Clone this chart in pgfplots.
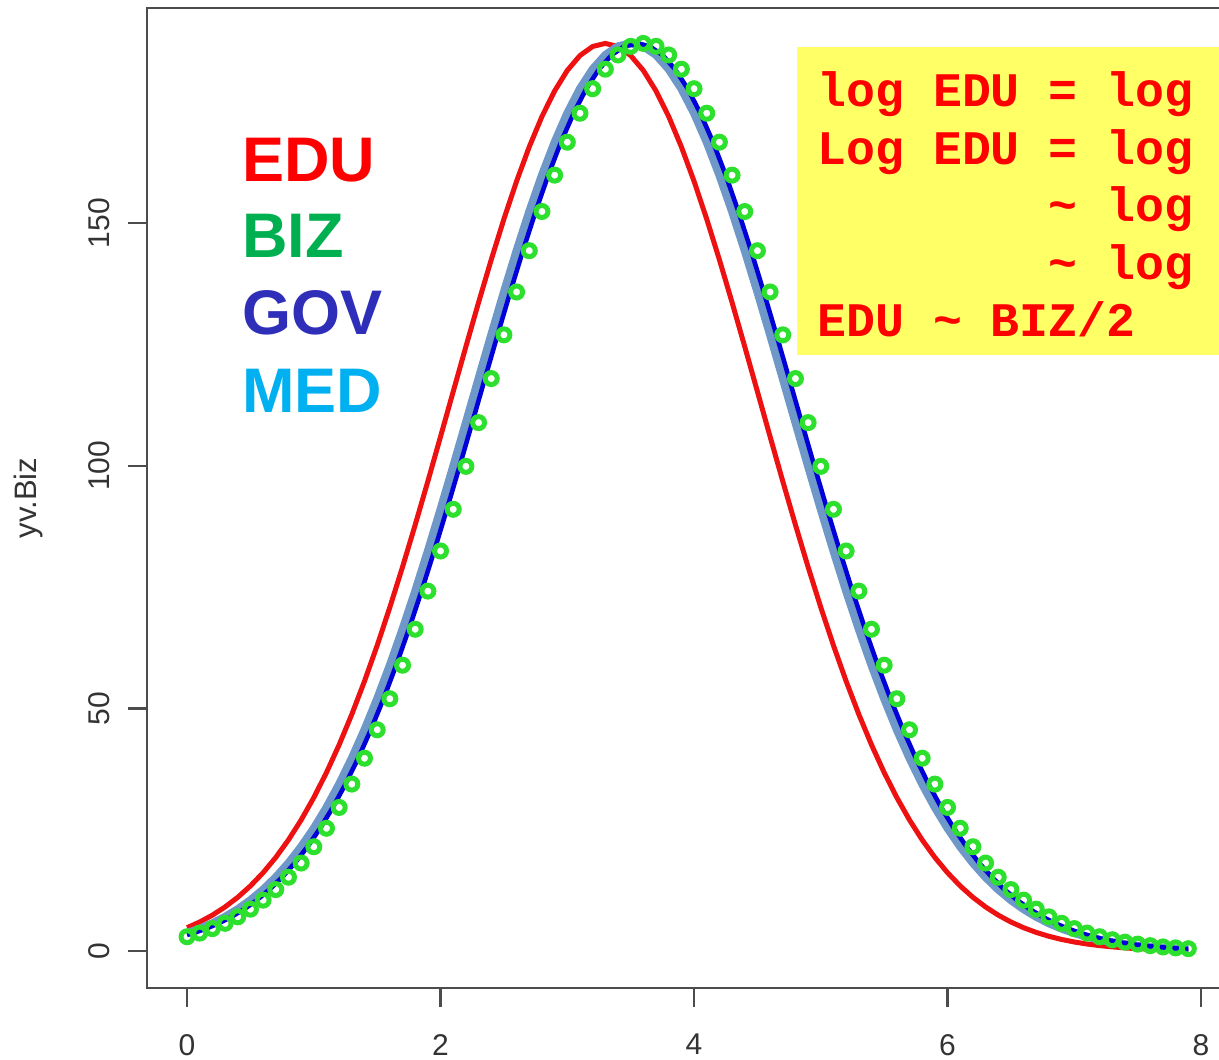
\documentclass[border=0pt]{standalone}
\usepackage{fontspec}
\setmainfont{Liberation Sans}
\newfontfamily\monob{Liberation Mono}
\usepackage{pgfplots}
\usepackage{pgfplotstable}
\pgfplotsset{compat=1.18}
\definecolor{eduR}{HTML}{FF0000}
\definecolor{eduLine}{HTML}{EE1111}
\definecolor{bizG}{HTML}{00B050}
\definecolor{govB}{HTML}{2E2EB8}
\definecolor{medC}{HTML}{00B0F0}
\definecolor{ptG}{HTML}{2EE02E}
\definecolor{govLine}{HTML}{0000D8}
\definecolor{medLine}{HTML}{6E98C8}
\definecolor{yellowbox}{HTML}{FFFF66}

\pgfplotstableread{
x y
0.0 2.96
0.1 3.71
0.2 4.63
0.3 5.73
0.4 7.06
0.5 8.64
0.6 10.50
0.7 12.68
0.8 15.22
0.9 18.14
1.0 21.50
1.1 25.31
1.2 29.60
1.3 34.41
1.4 39.74
1.5 45.60
1.6 51.99
1.7 58.90
1.8 66.31
1.9 74.17
2.0 82.43
2.1 91.02
2.2 99.87
2.3 108.88
2.4 117.95
2.5 126.96
2.6 135.79
2.7 144.30
2.8 152.37
2.9 159.86
3.0 166.65
3.1 172.62
3.2 177.67
3.3 181.69
3.4 184.62
3.5 186.40
3.6 187.00
3.7 186.40
3.8 184.62
3.9 181.69
4.0 177.67
4.1 172.62
4.2 166.65
4.3 159.86
4.4 152.37
4.5 144.30
4.6 135.79
4.7 126.96
4.8 117.95
4.9 108.88
5.0 99.87
5.1 91.02
5.2 82.43
5.3 74.17
5.4 66.31
5.5 58.90
5.6 51.99
5.7 45.60
5.8 39.74
5.9 34.41
6.0 29.60
6.1 25.31
6.2 21.50
6.3 18.14
6.4 15.22
6.5 12.68
6.6 10.50
6.7 8.64
6.8 7.06
6.9 5.73
7.0 4.63
7.1 3.71
7.2 2.96
7.3 2.34
7.4 1.84
7.5 1.44
7.6 1.12
7.7 0.86
7.8 0.66
7.9 0.50
}\biz

\pgfplotstableread{
x y
0.0 4.82
0.1 6.00
0.2 7.41
0.3 9.10
0.4 11.09
0.5 13.43
0.6 16.15
0.7 19.30
0.8 22.91
0.9 27.01
1.0 31.63
1.1 36.79
1.2 42.51
1.3 48.78
1.4 55.61
1.5 62.97
1.6 70.83
1.7 79.13
1.8 87.82
1.9 96.80
2.0 106.00
2.1 115.28
2.2 124.54
2.3 133.64
2.4 142.45
2.5 150.82
2.6 158.62
2.7 165.70
2.8 171.94
2.9 177.21
3.0 181.43
3.1 184.50
3.2 186.37
3.3 187.00
3.4 186.37
3.5 184.50
3.6 181.43
3.7 177.21
3.8 171.94
3.9 165.70
4.0 158.62
4.1 150.82
4.2 142.45
4.3 133.64
4.4 124.54
4.5 115.28
4.6 106.00
4.7 96.80
4.8 87.82
4.9 79.13
5.0 70.83
5.1 62.97
5.2 55.61
5.3 48.78
5.4 42.51
5.5 36.79
5.6 31.63
5.7 27.01
5.8 22.91
5.9 19.30
6.0 16.15
6.1 13.43
6.2 11.09
6.3 9.10
6.4 7.41
6.5 6.00
6.6 4.82
6.7 3.85
6.8 3.05
6.9 2.40
7.0 1.88
7.1 1.46
7.2 1.13
7.3 0.87
7.4 0.66
7.5 0.50
7.6 0.38
7.7 0.28
7.8 0.21
7.9 0.15
}\edu

\pgfplotstableread{
x y
0 3.33
0.05 3.71
0.15 4.63
0.25 5.73
0.35 7.06
0.45 8.64
0.55 10.50
0.65 12.68
0.75 15.22
0.85 18.14
0.95 21.50
1.05 25.31
1.15 29.60
1.25 34.41
1.35 39.74
1.45 45.60
1.55 51.99
1.65 58.90
1.75 66.31
1.85 74.17
1.95 82.43
2.05 91.02
2.15 99.87
2.25 108.88
2.35 117.95
2.45 126.96
2.55 135.79
2.65 144.30
2.75 152.37
2.85 159.86
2.95 166.65
3.05 172.62
3.15 177.67
3.25 181.69
3.35 184.62
3.45 186.40
3.55 187.00
3.65 186.40
3.75 184.62
3.85 181.69
3.95 177.67
4.05 172.62
4.15 166.65
4.25 159.86
4.35 152.37
4.45 144.30
4.55 135.79
4.65 126.96
4.75 117.95
4.85 108.88
4.95 99.87
5.05 91.02
5.15 82.43
5.25 74.17
5.35 66.31
5.45 58.90
5.55 51.99
5.65 45.60
5.75 39.74
5.85 34.41
5.95 29.60
6.05 25.31
6.15 21.50
6.25 18.14
6.35 15.22
6.45 12.68
6.55 10.50
6.65 8.64
6.75 7.06
6.85 5.73
6.95 4.63
7.05 3.71
7.15 2.96
7.25 2.34
7.35 1.84
7.45 1.44
7.55 1.12
7.65 0.86
7.75 0.66
7.85 0.50
7.9 0.44
}\gov

\pgfplotstableread{
x y
0.0 3.71
0.1 4.63
0.2 5.73
0.3 7.06
0.4 8.64
0.5 10.50
0.6 12.68
0.7 15.22
0.8 18.14
0.9 21.50
1.0 25.31
1.1 29.60
1.2 34.41
1.3 39.74
1.4 45.60
1.5 51.99
1.6 58.90
1.7 66.31
1.8 74.17
1.9 82.43
2.0 91.02
2.1 99.87
2.2 108.88
2.3 117.95
2.4 126.96
2.5 135.79
2.6 144.30
2.7 152.37
2.8 159.86
2.9 166.65
3.0 172.62
3.1 177.67
3.2 181.69
3.3 184.62
3.4 186.40
3.5 187.00
3.6 186.40
3.7 184.62
3.8 181.69
3.9 177.67
4.0 172.62
4.1 166.65
4.2 159.86
4.3 152.37
4.4 144.30
4.5 135.79
4.6 126.96
4.7 117.95
4.8 108.88
4.9 99.87
5.0 91.02
5.1 82.43
5.2 74.17
5.3 66.31
5.4 58.90
5.5 51.99
5.6 45.60
5.7 39.74
5.8 34.41
5.9 29.60
6.0 25.31
6.1 21.50
6.2 18.14
6.3 15.22
6.4 12.68
6.5 10.50
6.6 8.64
6.7 7.06
6.8 5.73
6.9 4.63
7.0 3.71
7.1 2.96
7.2 2.34
7.3 1.84
7.4 1.44
7.5 1.12
7.6 0.86
7.7 0.66
7.8 0.50
7.9 0.38
}\med

\begin{document}
\begin{tikzpicture}
\path[use as bounding box, clip] (-73.5pt,-35.5pt) rectangle (536pt,494pt);
\begin{axis}[
  at={(0pt,0pt)}, anchor=south west,
  scale only axis, width=540.7pt, height=490pt,
  xmin=-0.316, xmax=8.216, ymin=-7.6, ymax=194.3,
  xtick={0,2,4,6,8}, ytick={0,50,100,150},
  xtick pos=left, ytick pos=left,
  tick align=outside, major tick length=9.5pt,
  axis line style={black!70, line width=1.1pt},
  tick style={black!70, line width=1.1pt},
  /pgf/number format/assume math mode=true,
  ticklabel style={font=\fontsize{15}{18}\selectfont, text=black!80},
  yticklabel style={rotate=90, anchor=south},
  xticklabel shift=10pt, yticklabel shift=5.5pt,
  ylabel={yv.Biz},
  ylabel style={at={(axis description cs:-0.110,0.5)}, anchor=center, font=\fontsize{15.5}{18}\selectfont, text=black!80},
]
\addplot[only marks, mark=o, mark size=3pt, mark options={line width=2.5pt, draw=ptG}] table {\biz};
\addplot[eduLine, line width=2.5pt, line join=round] table {\edu};
\addplot[medLine, line width=4pt, line join=round] table {\med};
\addplot[govLine, line width=2.3pt, line join=round] table {\gov};
\end{axis}
\begin{scope}[every node/.style={anchor=base west, inner sep=0pt, font=\fontsize{31.5}{31.5}\bfseries\selectfont}]
\node[text=eduR] at (47.5pt,403pt) {EDU};
\node[text=bizG] at (47.5pt,365pt) {BIZ};
\node[text=govB] at (47.5pt,326.5pt) {GOV};
\node[text=medC] at (47.5pt,287.5pt) {MED};
\end{scope}
\fill[yellowbox] (325pt,316.5pt) rectangle (560pt,470.5pt);
\begin{scope}[every node/.style={anchor=base west, inner sep=0pt, text=eduR, font=\monob\bfseries\fontsize{24.1}{24.1}\selectfont}]
\node at (335pt,440.5pt) {log EDU = log};
\node at (335pt,411.75pt) {Log EDU = log};
\node at (335pt,383pt) {\phantom{Log EDU }\textasciitilde{} log};
\node at (335pt,354.25pt) {\phantom{Log EDU }\textasciitilde{} log};
\node at (335pt,325.5pt) {EDU \textasciitilde{} BIZ/2};
\end{scope}
\end{tikzpicture}
\end{document}
